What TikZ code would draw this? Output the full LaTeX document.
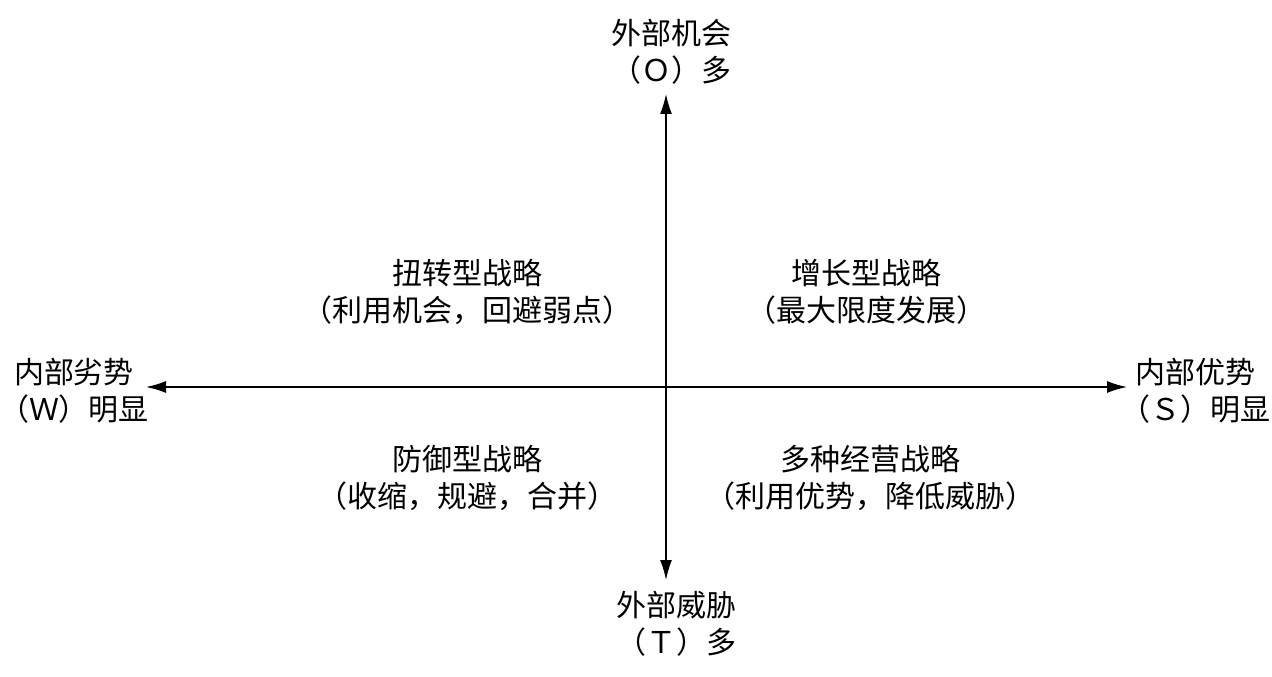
\documentclass[tikz,border=0pt]{standalone}
\usepackage{fontspec}
\newfontfamily\cjk{Noto Sans CJK SC}
\usetikzlibrary{arrows.meta}
\begin{document}
\begin{tikzpicture}[x=0.75pt,y=-0.75pt,
  lbl/.style={font=\cjk\fontsize{22.5pt}{28pt}\selectfont, align=center, inner sep=0pt, text=black},
  axis/.style={line width=1.1pt, draw=black, -{Latex[length=15pt,width=9pt]}}]
\useasboundingbox (0,0) rectangle (1272,677);
\coordinate (o) at (666,387);
\coordinate (tN) at (666,94);
\coordinate (tS) at (666,580);
\coordinate (tW) at (146,387);
\coordinate (tE) at (1127,387);
\draw[axis] (o) -- (tN);
\draw[axis] (o) -- (tS);
\draw[axis] (o) -- (tW);
\draw[axis] (o) -- (tE);
\node[lbl] (n) at (671,52) {外部机会\\（Ｏ）多};
\node[lbl] (s) at (676,624) {外部威胁\\（Ｔ）多};
\node[lbl] (w) at (74,391) {内部劣势\\（Ｗ）明显};
\node[lbl] (e) at (1195,391) {内部优势\\（Ｓ）明显};
\node[lbl] (q2) at (467,292) {扭转型战略\\（利用机会，回避弱点）};
\node[lbl] (q1) at (866,292) {增长型战略\\（最大限度发展）};
\node[lbl] (q3) at (467,478) {防御型战略\\（收缩，规避，合并）};
\node[lbl] (q4) at (870,478) {多种经营战略\\（利用优势，降低威胁）};
\end{tikzpicture}
\end{document}
